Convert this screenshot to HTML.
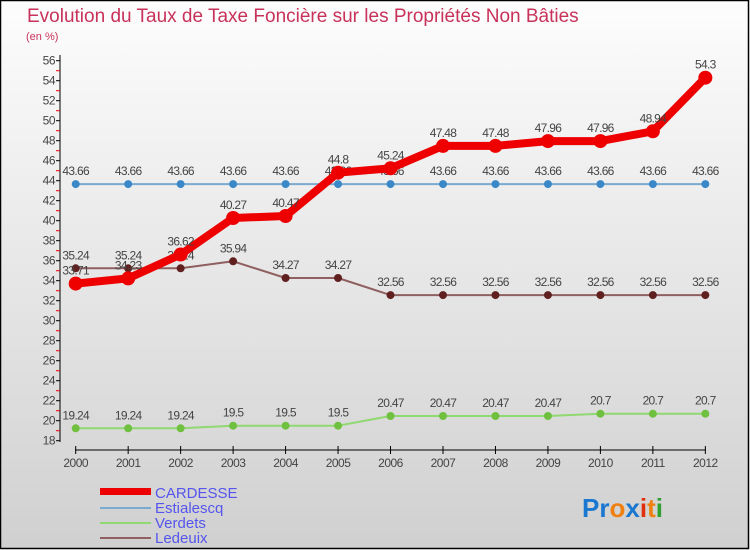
<!DOCTYPE html>
<html><head><meta charset="utf-8"><style>
body{margin:0}
svg{display:block;font-family:"Liberation Sans",sans-serif}
</style></head><body>
<svg width="750" height="550" viewBox="0 0 750 550">
<defs><linearGradient id="bg" x1="0" y1="0" x2="0" y2="1"><stop offset="0" stop-color="#fdfdfd"/><stop offset="1" stop-color="#d0d0d0"/></linearGradient></defs>
<rect x="0.5" y="0.5" width="748" height="548" fill="url(#bg)" stroke="#000" stroke-width="1.5"/>
<text x="27" y="22" font-size="19" fill="#c8325a">Evolution du Taux de Taxe Foncière sur les Propriétés Non Bâties</text>
<text x="26" y="40" font-size="11" fill="#c8325a">(en %)</text>
<g id="axes"></g>
<g id="series"></g>
<g>
<rect x="100" y="488" width="51" height="7" fill="#ee0000"/>
<text x="155" y="498" font-size="15" fill="#5555ee">CARDESSE</text>
<line x1="100" y1="508" x2="151" y2="508" stroke="#7aaad0" stroke-width="2"/>
<text x="155" y="513" font-size="15" fill="#5555ee">Estialescq</text>
<line x1="100" y1="523" x2="151" y2="523" stroke="#90d870" stroke-width="2"/>
<text x="155" y="528" font-size="15" fill="#5555ee">Verdets</text>
<line x1="100" y1="538" x2="151" y2="538" stroke="#906060" stroke-width="2"/>
<text x="155" y="543" font-size="15" fill="#5555ee">Ledeuix</text>
</g>
<g font-size="26" font-weight="bold">
<text x="582" y="517"><tspan fill="#1a78d0">Pr</tspan><tspan fill="#f08010">o</tspan><tspan fill="#1a78d0">x</tspan><tspan fill="#e03010">i</tspan><tspan fill="#f08010">t</tspan><tspan fill="#30a030">i</tspan></text>
</g>
</svg>
<script>
const years=["2000","2001","2002","2003","2004","2005","2006","2007","2008","2009","2010","2011","2012"];
const cardesse=[33.71,34.23,36.62,40.27,40.47,44.8,45.24,47.48,47.48,47.96,47.96,48.94,54.3];
const estialescq=[43.66,43.66,43.66,43.66,43.66,43.66,43.66,43.66,43.66,43.66,43.66,43.66,43.66];
const verdets=[19.24,19.24,19.24,19.5,19.5,19.5,20.47,20.47,20.47,20.47,20.7,20.7,20.7];
const ledeuix=[35.24,35.24,35.24,35.94,34.27,34.27,32.56,32.56,32.56,32.56,32.56,32.56,32.56];
const yTicks=[18,20,22,24,26,28,30,32,34,36,38,40,42,44,46,48,50,52,54,56];
const NS="http://www.w3.org/2000/svg";
const x=i=>75.7+i*52.47;
const y=v=>440.7-(v-18)*10;
function mk(t,a,p){const e=document.createElementNS(NS,t);for(const k in a)e.setAttribute(k,a[k]);p.appendChild(e);return e;}
const ax=document.getElementById('axes');
mk('line',{x1:60,y1:55,x2:60,y2:442,stroke:'#000'},ax);
mk('line',{x1:75,y1:450,x2:706,y2:450,stroke:'#000'},ax);
yTicks.forEach(v=>{
 mk('line',{x1:56,y1:y(v),x2:60,y2:y(v),stroke:'#000'},ax);
 if(v<56)mk('line',{x1:56,y1:y(v+1),x2:60,y2:y(v+1),stroke:'#e00'},ax);
 const t=mk('text',{x:55,y:y(v)+4,'font-size':12,fill:'#444','text-anchor':'end','letter-spacing':'-0.5'},ax);
 
 
 t.textContent=v;
});
years.forEach((yr,i)=>{
 mk('line',{x1:x(i),y1:446,x2:x(i),y2:454,stroke:'#000'},ax);
 const t=mk('text',{x:x(i),y:467,'font-size':12,fill:'#444','text-anchor':'middle','letter-spacing':'-0.5'},ax);
 
 
 t.textContent=yr;
});
const sg=document.getElementById('series');
function series(name,data,color,w,r,mc){
 const g=mk('g',{},sg);
 
 
 const pl=mk('polyline',{points:data.map((v,i)=>x(i)+','+y(v)).join(' '),fill:'none',stroke:color,'stroke-width':w,'stroke-linejoin':'round'},g);
 
 
 data.forEach((v,i)=>{
  const c=mk('circle',{cx:x(i),cy:y(v),r:r,fill:mc},g);
  
  
  const t=mk('text',{x:x(i),y:y(v)-9,'font-size':12,fill:'#444','text-anchor':'middle','letter-spacing':'-0.7'},g);
  
  
  t.textContent=v;
 });
}
series('verdets',verdets,'#90d870',2,4,'#70c040');
series('ledeuix',ledeuix,'#906060',2,4,'#602020');
series('estialescq',estialescq,'#7aaad0',2,4,'#3a88c8');
series('cardesse',cardesse,'#ee0000',8,7,'#ee0000');
</script>
</body></html>
